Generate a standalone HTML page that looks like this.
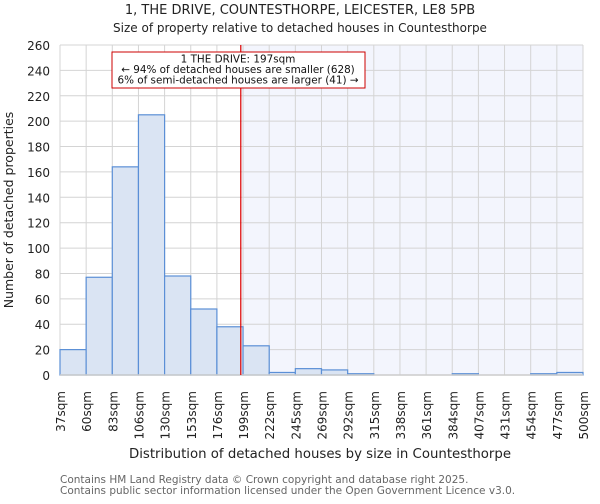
<!DOCTYPE html>
<html><head><meta charset="utf-8"><style>
body{margin:0;background:#fff;font-family:"DejaVu Sans","Liberation Sans",sans-serif}
svg text{font-family:"DejaVu Sans","Liberation Sans",sans-serif}
</style></head><body>
<svg id="chart" width="600" height="500" xmlns="http://www.w3.org/2000/svg">
<text x="300" y="14" text-anchor="middle" font-size="13" fill="#222">1, THE DRIVE, COUNTESTHORPE, LEICESTER, LE8 5PB</text>
<text x="300" y="32" text-anchor="middle" font-size="12" fill="#222">Size of property relative to detached houses in Countesthorpe</text>
<g id="plot"></g>
<text x="320" y="458" text-anchor="middle" font-size="13.3" fill="#222">Distribution of detached houses by size in Countesthorpe</text>
<text transform="translate(13,210) rotate(-90)" text-anchor="middle" font-size="12.5" fill="#222">Number of detached properties</text>
<text x="60" y="483" font-size="10.5" fill="#666">Contains HM Land Registry data © Crown copyright and database right 2025.</text>
<text x="60" y="494" font-size="10.5" fill="#666">Contains public sector information licensed under the Open Government Licence v3.0.</text>
</svg>
<script>
const edges=[37,60,83,106,130,153,176,199,222,245,269,292,315,338,361,384,407,431,454,477,500];
const counts=[20,77,164,205,78,52,38,23,2,5,4,1,0,0,0,1,0,0,1,2];
const yTicks=[0,20,40,60,80,100,120,140,160,180,200,220,240,260];
const propertySize=197;
const NS="http://www.w3.org/2000/svg";
const L=60,R=583,T=45,B=375,yMax=260;
const bw=(R-L)/(edges.length-1);
function xi(i){return L+i*bw;}
function xv(v){for(let i=0;i<edges.length-1;i++){if(v<=edges[i+1])return xi(i)+(v-edges[i])/(edges[i+1]-edges[i])*bw;}return R;}
function y(v){return B-v/yMax*(B-T);}
const g=document.getElementById('plot');
function mk(t,a){const e=document.createElementNS(NS,t);for(const k in a)e.setAttribute(k,a[k]);g.appendChild(e);return e;}
const px=xv(propertySize);
let e=mk('rect',{x:px,y:T,width:R-px,height:B-T,fill:'#f3f5fd'});


yTicks.forEach(t=>{
 let l=mk('line',{x1:L,x2:R,y1:y(t),y2:y(t),stroke:'#d4d4d4','stroke-width':1});
 
 
 let tx=mk('text',{x:L-10,y:y(t)+5,'text-anchor':'end','font-size':12,fill:'#222'});
 tx.textContent=t;
 
 
});
edges.forEach((v,i)=>{
 let l=mk('line',{x1:xi(i),x2:xi(i),y1:T,y2:B,stroke:'#d4d4d4','stroke-width':1});
 
 
 let tx=mk('text',{transform:`translate(${xi(i)+5},${B+16}) rotate(-90)`,'text-anchor':'end','font-size':12,fill:'#222'});
 tx.textContent=v+'sqm';
 
 
});
counts.forEach((c,i)=>{
 let r=mk('rect',{x:xi(i),y:y(c),width:bw,height:B-y(c),fill:'#dae4f3',stroke:'#5b8fd6','stroke-width':1.2});
 
 
});
e=mk('line',{x1:L,x2:R,y1:B,y2:B,stroke:'#ccc','stroke-width':1.5});


e=mk('line',{x1:px,x2:px,y1:T,y2:B,stroke:'#d00','stroke-width':1.2});


e=mk('rect',{x:112,y:52,width:253,height:36,fill:'#fff',stroke:'#c00','stroke-width':1});


["1 THE DRIVE: 197sqm","← 94% of detached houses are smaller (628)","6% of semi-detached houses are larger (41) →"].forEach((s,k)=>{
 let t=mk('text',{x:238,y:62.5+k*10.5,'text-anchor':'middle','font-size':10.4,fill:'#111'});
 t.textContent=s;
 
 
});
</script>
</body></html>
